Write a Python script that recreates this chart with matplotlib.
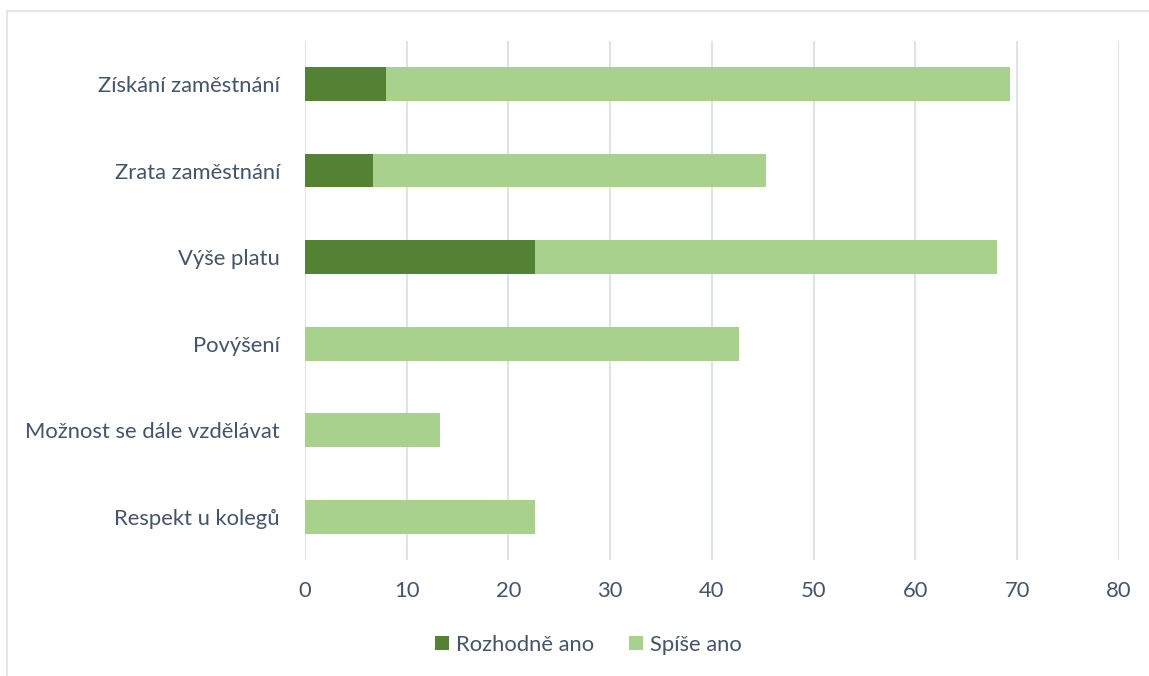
import matplotlib.pyplot as plt
from matplotlib.patches import Rectangle

# data
categories = ["Získání zaměstnání", "Zrata zaměstnání", "Výše platu",
              "Povýšení", "Možnost se dále vzdělávat", "Respekt u kolegů"]
rozhodne = [8.0, 6.7, 22.6, 0, 0, 0]
spise = [61.3, 38.6, 45.4, 42.7, 13.3, 22.6]
xticks = [0, 10, 20, 30, 40, 50, 60, 70, 80]

dark = "#548235"
light = "#A9D18E"
txt = "#44546A"

plt.rcParams['font.family'] = ['Lato', 'DejaVu Sans']

fig = plt.figure(figsize=(11.49, 6.76), dpi=100)
ax = fig.add_axes([0.2654, 0.1712, 0.7085, 0.7686])

y = list(range(len(categories)))
ax.barh(y, rozhodne, height=0.39, color=dark, label="Rozhodně ano", zorder=3)
ax.barh(y, spise, left=rozhodne, height=0.39, color=light, label="Spíše ano", zorder=3)

ax.set_ylim(len(categories) - 0.5, -0.5)
ax.set_xlim(0, 80)
ax.set_xticks(xticks)
ax.set_yticks(y)
ax.set_yticklabels(categories)
ax.grid(axis="x", color="#DEE3EA", linewidth=1.5, zorder=0)
for s in ax.spines.values():
    s.set_visible(False)
ax.tick_params(length=0, labelsize=15.8, colors=txt)
ax.tick_params(axis="x", pad=15)
ax.tick_params(axis="y", pad=18)

ax.legend(loc="upper center", bbox_to_anchor=(0.348, -0.105), ncol=2, frameon=False,
          fontsize=15.8, labelcolor=txt, handlelength=0.65, handleheight=0.65,
          handletextpad=0.3, columnspacing=1.6)

# light chart-area border
fig.patches.append(Rectangle((7 / 1149, -0.1), 1.2, 1 - 11 / 676 + 0.1,
                             transform=fig.transFigure, fill=False,
                             edgecolor="#DEE3EA", linewidth=1.2))

fig.savefig("out.png", dpi=100)
